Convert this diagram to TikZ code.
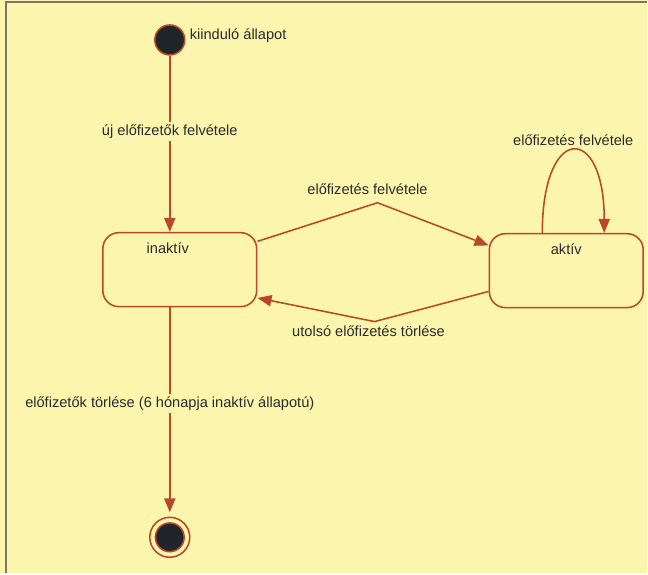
\documentclass[tikz,border=0pt]{standalone}
\usepackage{fontspec}
\setmainfont{Liberation Sans}
\usetikzlibrary{arrows.meta, positioning}

\definecolor{papir}{HTML}{FCF5AE}
\definecolor{vonal}{HTML}{B8482A}
\definecolor{pont}{HTML}{1F2528}
\definecolor{keret}{HTML}{77776E}
\definecolor{betu}{HTML}{2B2B2B}

\tikzset{
  allapot/.style={draw=vonal, line width=1.1pt, rounded corners=0.4cm,
    minimum width=3.85cm, minimum height=1.85cm},
  kezdo/.style={circle, draw=vonal, line width=1.1pt, fill=pont, minimum size=0.75cm, inner sep=0pt},
  vegkor/.style={circle, draw=vonal, line width=1.1pt, minimum size=1cm, inner sep=0pt},
  nyil/.style={draw=vonal, line width=1.1pt, ->},
  felirat/.style={text=betu, inner sep=2pt},
}

\begin{document}
\begin{tikzpicture}[x=0.025cm, y=-0.025cm, >={Triangle[length=10pt,width=8pt]},
    font=\fontsize{10.4}{12.5}\selectfont]
  % háttér és keret
  \fill[papir] (0,0) rectangle (648,574);
  \draw[keret, line width=1.2pt] (6,574) -- (6,2) -- (648,2);

  % állapotok
  \node[kezdo] (start) at (170,40) {};
  \node[felirat, right=0.03cm of start, yshift=3pt] (startfelirat) {kiinduló állapot};
  \node[allapot] (inaktiv) at (180,270) {};
  \node[felirat, below=0.2cm of inaktiv.north, xshift=-0.3cm] {inaktív};
  \node[allapot] (aktiv) at (567,271) {};
  \node[felirat, below=0.2cm of aktiv.north] {aktív};
  \node[vegkor] (vegkor) at (170,538) {};
  \node[kezdo, minimum size=0.72cm] (veg) at (vegkor) {};

  % átmenetek
  \draw[nyil] (start.south) -- (start.south |- inaktiv.north)
    node[felirat, fill=papir, pos=0.43] {új előfizetők felvétele};

  \coordinate (fent) at (378,203);
  \draw[nyil] (inaktiv.20) -- (fent) -- (aktiv.162);
  \node[felirat, above=0.12cm of fent, xshift=-0.25cm] {előfizetés felvétele};

  \coordinate (lent) at (375,322);
  \draw[nyil] (aktiv.195) -- (lent) -- (inaktiv.-20);
  \node[felirat, below=0.02cm of lent, xshift=-0.15cm] {utolsó előfizetés törlése};

  \draw[nyil] ([xshift=-0.6cm]aktiv.north) .. controls +(0,-110) and +(0,-110) .. ([xshift=0.95cm]aktiv.north)
    node[felirat, pos=0.5, above=1pt] {előfizetés felvétele};

  \draw[nyil, shorten >=3pt] (inaktiv.south -| start) -- (vegkor.north)
    node[felirat, fill=papir, pos=0.46] {előfizetők törlése (6 hónapja inaktív állapotú)};
\end{tikzpicture}
\end{document}
